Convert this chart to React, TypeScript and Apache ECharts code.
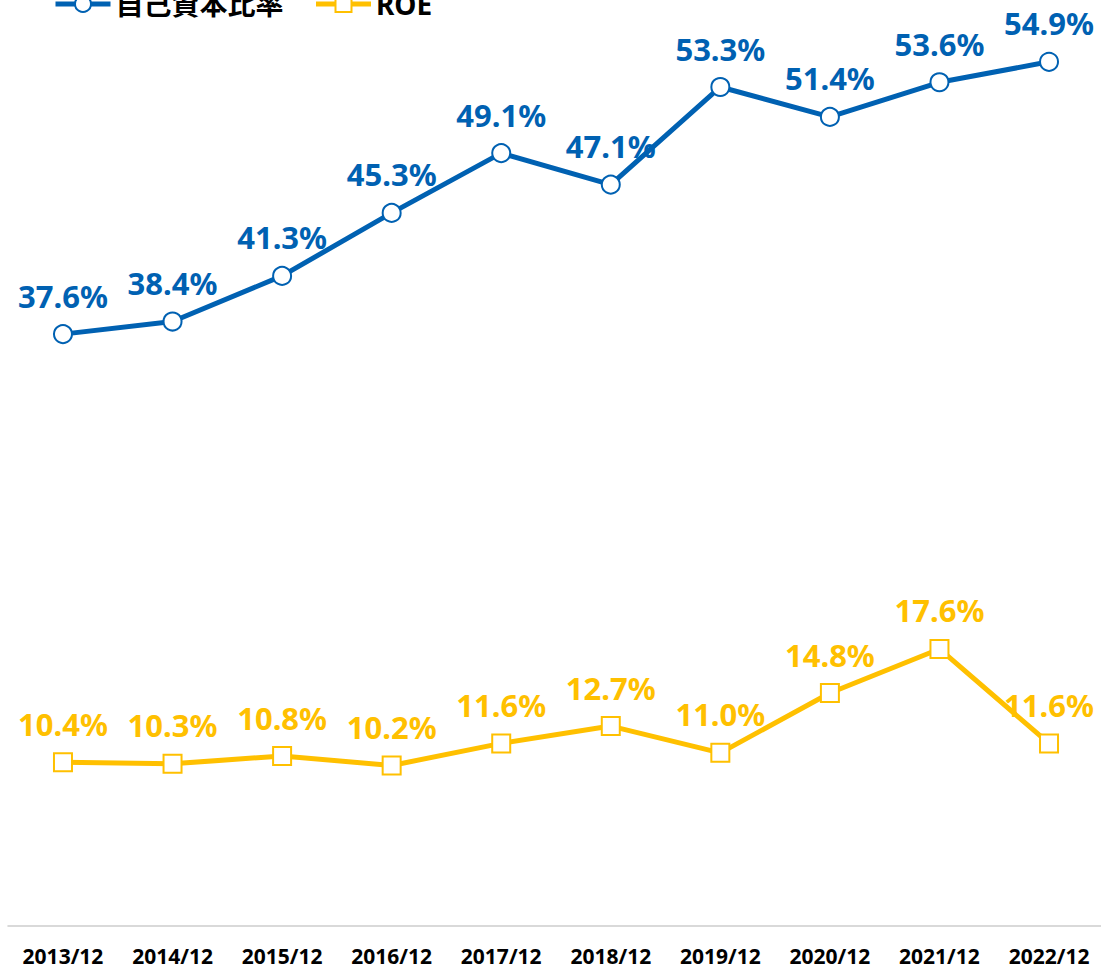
import React, { useEffect, useRef } from "react";
import * as echarts from "echarts";

const categories = ["2013/12", "2014/12", "2015/12", "2016/12", "2017/12", "2018/12", "2019/12", "2020/12", "2021/12", "2022/12"];
const equityRatio = [37.6, 38.4, 41.3, 45.3, 49.1, 47.1, 53.3, 51.4, 53.6, 54.9];
const roe = [10.4, 10.3, 10.8, 10.2, 11.6, 12.7, 11.0, 14.8, 17.6, 11.6];

const BLUE = "#0061B2";
const YELLOW = "#FFC000";
const FONT = "'Noto Sans', 'Noto Sans CJK JP', sans-serif";

export default function App() {
  const ref = useRef<HTMLDivElement>(null);
  useEffect(() => {
    if (!ref.current) return;
    const chart = echarts.init(ref.current, undefined, { renderer: "svg" });
    const mkSeries = (name: string, data: number[], color: string, symbol: string) => ({
      name,
      type: "line",
      data,
      color,
      symbol,
      symbolSize: 18,
      showAllSymbol: true,
      lineStyle: { color, width: 5 },
      itemStyle: { color: "#fff", borderColor: color, borderWidth: 2 },
      label: {
        show: true,
        position: "top",
        distance: 13,
        color,
        fontFamily: FONT,
        fontWeight: "bold",
        fontSize: 31,
        formatter: (p: any) => p.value.toFixed(1) + "%",
      },
      z: 3,
    });
    chart.setOption({
      animation: false,
      textStyle: { fontFamily: FONT },
      legend: {
        left: 48,
        top: -15,
        itemWidth: 55,
        itemHeight: 20,
        itemGap: 30,
        lineStyle: { width: 5 },
        textStyle: { fontFamily: FONT, fontWeight: "bold", fontSize: 28, color: "#000", lineHeight: 24 },
        data: ["自己資本比率", "ROE"],
      },
      grid: { left: 8.2, width: 1095.6, top: 13, height: 913, containLabel: false },
      xAxis: {
        type: "category",
        data: categories,
        boundaryGap: true,
        axisLine: { lineStyle: { color: "#d9d9d9", width: 2 } },
        axisTick: { show: false },
        axisLabel: { color: "#000", fontFamily: FONT, fontWeight: "bold", fontSize: 21, margin: 19, interval: 0 },
      },
      yAxis: { type: "value", min: 0, max: 58, show: false, splitLine: { show: false } },
      series: [
        mkSeries("自己資本比率", equityRatio, BLUE, "circle"),
        mkSeries("ROE", roe, YELLOW, "rect"),
      ],
    });
    return () => chart.dispose();
  }, []);
  return (
    <div style={{ position: "absolute", left: 0, top: 0, width: 1101, height: 968, overflow: "hidden" }}>
      <div ref={ref} style={{ width: 1120, height: 968 }} />
    </div>
  );
}
